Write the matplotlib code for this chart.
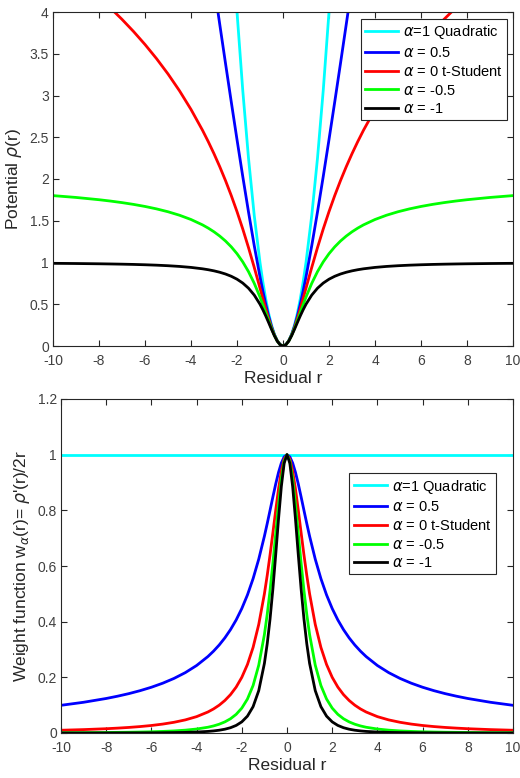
import numpy as np
import matplotlib
matplotlib.use("Agg")
import matplotlib.pyplot as plt

plt.rcParams['font.family'] = ['Liberation Sans', 'DejaVu Sans']
plt.rcParams['mathtext.fontset'] = 'dejavusans'
plt.rcParams['axes.unicode_minus'] = False

# residuals r >= 0 (curves are symmetric in r)
r_pos = [0, 0.125, 0.25, 0.375, 0.5, 0.625, 0.75, 0.875, 1, 1.25, 1.5, 1.75, 2, 2.25, 2.5, 2.75,
         3, 3.25, 3.5, 4, 4.5, 5, 5.5, 6, 6.5, 7, 7.5, 8, 9, 10]

labels = [r'$\alpha$=1 Quadratic', r'$\alpha$ = 0.5', r'$\alpha$ = 0 t-Student',
          r'$\alpha$ = -0.5', r'$\alpha$ = -1']
colors = ['#00ffff', '#0000ff', '#ff0000', '#00ff00', '#000000']

# potential rho(r)
rho_q = [0, 0.0156, 0.0625, 0.1406, 0.25, 0.3906, 0.5625, 0.7656, 1, 1.5625, 2.25, 3.0625, 4,
         5.0625, 6.25, 7.5625, 9, 10.5625, 12.25, 16, 20.25, 25, 30.25, 36, 42.25, 49, 56.25,
         64, 81, 100]
rho_05 = [0, 0.0156, 0.0616, 0.1360, 0.2361, 0.3585, 0.5, 0.6575, 0.8284, 1.2016, 1.6056,
          2.0311, 2.4721, 2.9244, 3.3852, 3.8523, 4.3246, 4.8007, 5.2801, 6.2462, 7.2195,
          8.198, 9.1803, 10.166, 11.153, 12.142, 13.133, 14.125, 16.111, 18.10]
rho_0 = [0, 0.0155, 0.0606, 0.1316, 0.2231, 0.3298, 0.4463, 0.5685, 0.6931, 0.9410, 1.1787,
         1.4018, 1.6094, 1.8021, 1.9810, 2.1474, 2.3026, 2.4478, 2.5840, 2.8332, 3.0564,
         3.2581, 3.4420, 3.6109, 3.7670, 3.9120, 4.0474, 4.1744, 4.4067, 4.6151]
rho_m05 = [0, 0.0154, 0.0597, 0.1273, 0.2111, 0.3040, 0.4, 0.4948, 0.5858, 0.7506, 0.8906,
           1.0077, 1.1056, 1.1877, 1.2572, 1.3165, 1.3675, 1.4118, 1.4506, 1.5149, 1.5661,
           1.6078, 1.6422, 1.6712, 1.6959, 1.7172, 1.7357, 1.7519, 1.7791, 1.8010]
rho_m1 = [0, 0.0154, 0.0588, 0.1233, 0.2, 0.2809, 0.36, 0.4336, 0.5, 0.6098, 0.6923, 0.7538,
          0.8, 0.8351, 0.8621, 0.8832, 0.9, 0.9135, 0.9245, 0.9412, 0.9529, 0.9615, 0.968,
          0.9730, 0.9769, 0.98, 0.9825, 0.9846, 0.9878, 0.9901]

# weight function w(r)
w_q = [1] * len(r_pos)
w_05 = [1, 0.9923, 0.9701, 0.9363, 0.8944, 0.8480, 0.8, 0.7526, 0.7071, 0.6247, 0.5547,
        0.4961, 0.4472, 0.4061, 0.3714, 0.3417, 0.3162, 0.2941, 0.2747, 0.2425, 0.2169,
        0.1961, 0.1789, 0.1644, 0.1521, 0.1414, 0.1322, 0.1240, 0.1104, 0.0995]
w_0 = [1, 0.9846, 0.9412, 0.8767, 0.8, 0.7191, 0.64, 0.5664, 0.5, 0.3902, 0.3077, 0.2462, 0.2,
       0.1649, 0.1379, 0.1168, 0.1, 0.0865, 0.0755, 0.0588, 0.0471, 0.0385, 0.032, 0.0270,
       0.0231, 0.02, 0.0175, 0.0154, 0.0122, 0.0099]
w_m05 = [1, 0.9770, 0.9131, 0.8209, 0.7155, 0.6098, 0.512, 0.4263, 0.3536, 0.2438, 0.1707,
         0.1221, 0.0894, 0.0670, 0.0512, 0.0399, 0.0316, 0.0254, 0.0207, 0.0143, 0.0102,
         0.0075, 0.0057, 0.0044, 0.0035, 0.0028, 0.0023, 0.0019, 0.0013, 0.0010]
w_m1 = [1, 0.9695, 0.8858, 0.7686, 0.64, 0.5171, 0.4096, 0.3208, 0.25, 0.1523, 0.0947, 0.0606,
        0.04, 0.0272, 0.0190, 0.0136, 0.01, 0.0075, 0.0057, 0.0035, 0.0022, 0.0015, 0.0010,
        0.0007, 0.0005, 0.0004, 0.0003, 0.0002, 0.0001, 0.0001]


def mirror(v):
    v = np.asarray(v, dtype=float)
    return np.concatenate([v[:0:-1], v])


r = np.concatenate([-np.asarray(r_pos[:0:-1]), r_pos])

axc = '#262626'
tickc = '#404040'

fig = plt.figure(figsize=(5.2, 7.78), dpi=100)
W, H = 520, 778
ax1 = fig.add_axes([53 / W, 1 - 346 / H, (513 - 53) / W, (346 - 12) / H])
ax2 = fig.add_axes([61 / W, 1 - 733 / H, (513 - 61) / W, (733 - 399) / H])


def style(ax):
    for s in ax.spines.values():
        s.set_color(axc)
        s.set_linewidth(0.8)
    ax.tick_params(direction='in', top=True, right=True, colors=axc, labelcolor=tickc,
                   labelsize=10, length=4, width=0.8)
    ax.tick_params(axis='x', pad=6)
    ax.tick_params(axis='y', pad=3)
    ax.set_xlim(-10, 10)
    ax.set_xticks(np.arange(-10, 11, 2))
    ax.set_xlabel('Residual r', fontsize=12.5, color=axc, labelpad=2)


leg_kw = dict(fontsize=10.5, handlelength=2.3, handletextpad=0.3, labelspacing=0.3,
              borderpad=0.3, fancybox=False, edgecolor=axc, framealpha=1, borderaxespad=0)

for vals, c, lab in zip([rho_q, rho_05, rho_0, rho_m05, rho_m1], colors, labels):
    ax1.plot(r, mirror(vals), color=c, lw=2, label=lab, solid_joinstyle='round')
style(ax1)
ax1.set_ylim(0, 4)
ax1.set_yticks(np.arange(0, 4.01, 0.5))
ax1.set_yticklabels(['0', '0.5', '1', '1.5', '2', '2.5', '3', '3.5', '4'])
ax1.set_ylabel(r'Potential $\rho$(r)', fontsize=12.5, color=axc, labelpad=4)
leg1 = ax1.legend(loc='upper right', bbox_to_anchor=(0.987, 0.979), **leg_kw)
leg1.get_frame().set_linewidth(0.8)

for vals, c, lab in zip([w_q, w_05, w_0, w_m05, w_m1], colors, labels):
    ax2.plot(r, mirror(vals), color=c, lw=2, label=lab, solid_joinstyle='round')
style(ax2)
ax2.set_ylim(0, 1.2)
ax2.set_yticks(np.arange(0, 1.21, 0.2))
ax2.set_yticklabels(['0', '0.2', '0.4', '0.6', '0.8', '1', '1.2'])
ax2.set_ylabel(r"Weight function w$_\alpha$(r)= $\rho$'(r)/2r", fontsize=12.5, color=axc,
               labelpad=4)
leg2 = ax2.legend(loc='upper right', bbox_to_anchor=(0.962, 0.778), **leg_kw)
leg2.get_frame().set_linewidth(0.8)

fig.savefig('out.png', dpi=100)
